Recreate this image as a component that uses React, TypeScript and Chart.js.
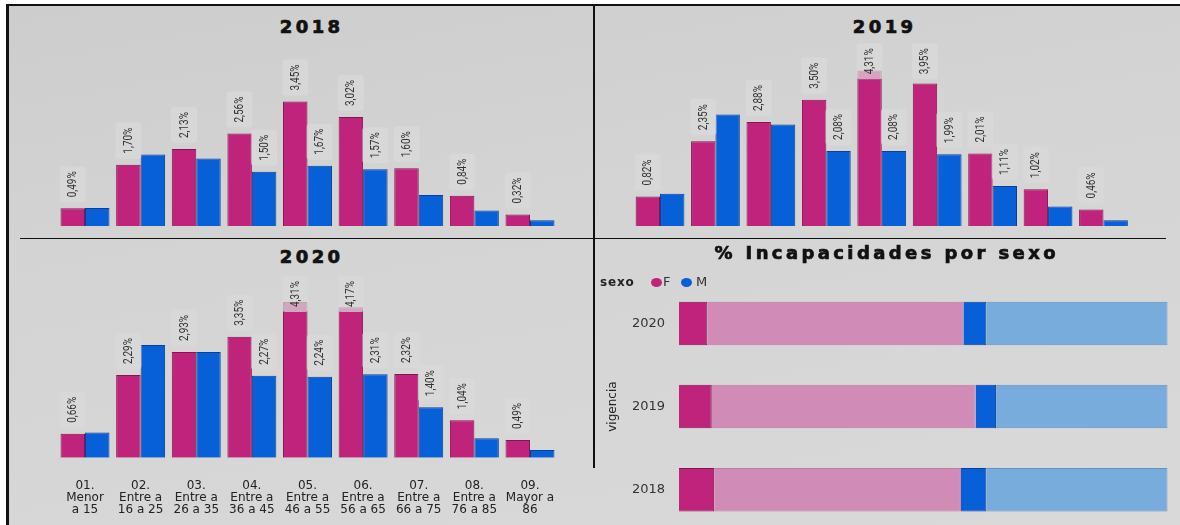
import React, { useEffect, useRef } from "react";
import { Chart, registerables } from "chart.js";

Chart.register(...registerables);

// ---------- data ----------
const ageGroups: string[][] = [
  ["01.", "Menor", "a 15"],
  ["02.", "Entre a", "16 a 25"],
  ["03.", "Entre a", "26 a 35"],
  ["04.", "Entre a", "36 a 45"],
  ["05.", "Entre a", "46 a 55"],
  ["06.", "Entre a", "56 a 65"],
  ["07.", "Entre a", "66 a 75"],
  ["08.", "Entre a", "76 a 85"],
  ["09.", "Mayor a", "86"],
];

const f2018 = [0.49, 1.7, 2.13, 2.56, 3.45, 3.02, 1.6, 0.84, 0.32];
const m2018 = [0.5, 1.98, 1.87, 1.5, 1.67, 1.57, 0.86, 0.43, 0.16];
const f2019 = [0.82, 2.35, 2.88, 3.5, 4.31, 3.95, 2.01, 1.02, 0.46];
const m2019 = [0.89, 3.09, 2.81, 2.08, 2.08, 1.99, 1.11, 0.54, 0.16];
const f2020 = [0.66, 2.29, 2.93, 3.35, 4.31, 4.17, 2.32, 1.04, 0.49];
const m2020 = [0.7, 3.12, 2.93, 2.27, 2.24, 2.31, 1.4, 0.54, 0.21];

const fLabelsShown = [true, true, true, true, true, true, true, true, true];
const mLabels2018 = [false, false, false, true, true, true, false, false, false];
const mLabels2019 = [false, false, false, true, true, true, true, false, false];
const mLabels2020 = [false, false, false, true, true, true, true, false, false];

const sexYears = ["2020", "2019", "2018"];
const fSelected = [5.8, 6.7, 7.2];
const fRest = [52.4, 54.0, 50.5];
const mSelected = [4.7, 4.2, 5.2];
const mRest = [37.1, 35.1, 37.1];

// ---------- styles ----------
const F_COLOR = "#c0237b";
const F_BORDER = "#86124f";
const M_COLOR = "#0760d8";
const M_BORDER = "#0a3f98";
const F_LIGHT = "#d08bb6";
const F_LIGHT_BORDER = "#c27aa7";
const M_LIGHT = "#78acdc";
const M_LIGHT_BORDER = "#5e94c6";

const LABEL_SX = 0.83;

function roundRect(ctx: CanvasRenderingContext2D, x: number, y: number, w: number, h: number, r: number) {
  ctx.beginPath();
  ctx.moveTo(x + r, y);
  ctx.lineTo(x + w - r, y);
  ctx.quadraticCurveTo(x + w, y, x + w, y + r);
  ctx.lineTo(x + w, y + h - r);
  ctx.quadraticCurveTo(x + w, y + h, x + w - r, y + h);
  ctx.lineTo(x + r, y + h);
  ctx.quadraticCurveTo(x, y + h, x, y + h - r);
  ctx.lineTo(x, y + r);
  ctx.quadraticCurveTo(x, y, x + r, y);
  ctx.closePath();
}

const barLabelPlugin = {
  id: "barLabels",
  afterDatasetsDraw(chart: any, _args: any, opts: any) {
    const ctx: CanvasRenderingContext2D = chart.ctx;
    const minTop = opts && typeof opts.minTop === "number" ? opts.minTop : 0;
    chart.data.datasets.forEach((ds: any, di: number) => {
      const flags: boolean[] = ds.labelFlags || [];
      const meta = chart.getDatasetMeta(di);
      meta.data.forEach((bar: any, i: number) => {
        if (!flags[i]) return;
        const v = ds.data[i] as number;
        const text = v.toFixed(2).replace(".", ",") + "%";
        ctx.save();
        ctx.font = "12px Roboto, 'DejaVu Sans', sans-serif";
        const tw = ctx.measureText(text).width * LABEL_SX;
        const boxLen = tw + 10;
        const boxW = 26;
        let boxTop = bar.y - 6 - boxLen;
        if (boxTop < minTop) boxTop = minTop;
        const x = bar.x;
        ctx.fillStyle = "rgba(218,218,218,0.72)";
        roundRect(ctx, x - boxW / 2, boxTop, boxW, boxLen, 3);
        ctx.fill();
        ctx.translate(x, boxTop + boxLen - 5);
        ctx.rotate(-Math.PI / 2);
        ctx.scale(LABEL_SX, 1);
        ctx.textAlign = "left";
        ctx.textBaseline = "middle";
        ctx.fillStyle = "#333333";
        ctx.fillText(text, 0, 0.5);
        ctx.restore();
      });
    });
  },
};

type BarPanelProps = {
  left: number;
  top: number;
  width: number;
  height: number;
  fData: number[];
  mData: number[];
  mFlags: boolean[];
  padding: { left: number; right: number; top: number; bottom: number };
  showX: boolean;
  xAxisHeight?: number;
  minLabelTop: number;
};

const Y_MAX = 5;

function BarPanel(p: BarPanelProps) {
  const ref = useRef<HTMLCanvasElement>(null);
  useEffect(() => {
    if (!ref.current) return;
    const chart = new Chart(ref.current, {
      type: "bar",
      data: {
        labels: ageGroups as any,
        datasets: [
          {
            label: "F",
            data: p.fData,
            backgroundColor: F_COLOR,
            borderColor: F_BORDER,
            borderWidth: 1,
            labelFlags: fLabelsShown,
          } as any,
          {
            label: "M",
            data: p.mData,
            backgroundColor: M_COLOR,
            borderColor: M_BORDER,
            borderWidth: 1,
            labelFlags: p.mFlags,
          } as any,
        ],
      },
      options: {
        animation: false,
        responsive: false,
        maintainAspectRatio: false,
        layout: { padding: p.padding },
        datasets: { bar: { categoryPercentage: 0.88, barPercentage: 1 } },
        scales: {
          x: {
            display: p.showX,
            grid: { display: false, drawTicks: false },
            border: { display: false },
            ticks: {
              color: "#222222",
              padding: 22,
              maxRotation: 0,
              autoSkip: false,
              font: { family: "'DejaVu Sans', sans-serif", size: 12, lineHeight: 1.0 },
            },
            afterFit: (s: any) => {
              if (p.xAxisHeight) s.height = p.xAxisHeight;
            },
          },
          y: { display: false, min: 0, max: Y_MAX },
        },
        plugins: {
          legend: { display: false },
          tooltip: { enabled: false },
          barLabels: { minTop: p.minLabelTop },
        } as any,
      },
      plugins: [barLabelPlugin],
    });
    return () => chart.destroy();
  }, []);
  return (
    <canvas
      ref={ref}
      width={p.width}
      height={p.height}
      style={{ position: "absolute", left: p.left, top: p.top, width: p.width, height: p.height }}
    />
  );
}

function SexPanel() {
  const ref = useRef<HTMLCanvasElement>(null);
  useEffect(() => {
    if (!ref.current) return;
    const chart = new Chart(ref.current, {
      type: "bar",
      data: {
        labels: sexYears,
        datasets: [
          { label: "F", data: fSelected, backgroundColor: F_COLOR, borderColor: F_BORDER, borderWidth: 1 },
          { label: "F", data: fRest, backgroundColor: F_LIGHT, borderColor: F_LIGHT_BORDER, borderWidth: 1 },
          { label: "M", data: mSelected, backgroundColor: M_COLOR, borderColor: M_BORDER, borderWidth: 1 },
          { label: "M", data: mRest, backgroundColor: M_LIGHT, borderColor: M_LIGHT_BORDER, borderWidth: 1 },
        ],
      },
      options: {
        indexAxis: "y",
        animation: false,
        responsive: false,
        maintainAspectRatio: false,
        layout: { padding: { left: 0, right: 6.4, top: 43, bottom: 10 } },
        datasets: { bar: { categoryPercentage: 0.524, barPercentage: 1 } },
        scales: {
          x: { stacked: true, min: 0, max: 100, display: false },
          y: {
            stacked: true,
            grid: { display: false, drawTicks: false },
            border: { display: false },
            ticks: {
              color: "#333333",
              padding: 14,
              font: { family: "'DejaVu Sans', sans-serif", size: 13 },
            },
            title: {
              display: true,
              text: "vigencia",
              color: "#222222",
              padding: { top: 12, bottom: 0 },
              font: { family: "'DejaVu Sans', sans-serif", size: 12 },
            },
            afterFit: (s: any) => {
              s.width = 85;
            },
          },
        },
        plugins: { legend: { display: false }, tooltip: { enabled: false } },
      },
    });
    return () => chart.destroy();
  }, []);
  return (
    <canvas
      ref={ref}
      width={580}
      height={314}
      style={{ position: "absolute", left: 594, top: 239, width: 580, height: 314 }}
    />
  );
}

function Title({ text, cx, cy }: { text: string; cx: number; cy: number }) {
  const ls = 3.4;
  return (
    <div
      style={{
        position: "absolute",
        left: cx - 250,
        width: 500,
        top: cy - 11,
        height: 22,
        lineHeight: "22px",
        textAlign: "center",
        fontFamily: "'DejaVu Sans', sans-serif",
        fontWeight: 700,
        fontSize: 18,
        letterSpacing: ls,
        paddingLeft: ls,
        boxSizing: "border-box",
        color: "#111111",
        whiteSpace: "nowrap",
        WebkitTextStroke: "0.7px #111111",
      }}
    >
      {text}
    </div>
  );
}

function Line({ l, t, w, h }: { l: number; t: number; w: number; h: number }) {
  return <div style={{ position: "absolute", left: l, top: t, width: w, height: h, background: "#111111" }} />;
}

function Dot({ cx, cy, color }: { cx: number; cy: number; color: string }) {
  return (
    <div
      style={{
        position: "absolute",
        left: cx - 5.5,
        top: cy - 4.5,
        width: 11,
        height: 9,
        borderRadius: "50%",
        background: color,
      }}
    />
  );
}

const legendText: React.CSSProperties = {
  position: "absolute",
  top: 274,
  height: 16,
  lineHeight: "16px",
  fontFamily: "'DejaVu Sans', sans-serif",
  fontSize: 13,
  color: "#333333",
  whiteSpace: "nowrap",
};

export default function App() {
  return (
    <div
      style={{
        position: "absolute",
        left: 0,
        top: 0,
        width: 1180,
        height: 525,
        overflow: "hidden",
        background: "#ffffff",
      }}
    >
      <div
        style={{
          position: "absolute",
          left: 6,
          top: 4,
          width: 1174,
          height: 521,
          background: "linear-gradient(170deg, #cdcdcd 0%, #d4d4d4 40%, #d9d9d9 100%)",
        }}
      />
      <BarPanel
        left={8}
        top={40}
        width={584}
        height={196}
        fData={f2018}
        mData={m2018}
        mFlags={mLabels2018}
        padding={{ left: 49.2, right: 34.2, top: 5.5, bottom: 10 }}
        showX={false}
        minLabelTop={3.3}
      />
      <BarPanel
        left={596}
        top={40}
        width={578}
        height={196}
        fData={f2019}
        mData={m2019}
        mFlags={mLabels2019}
        padding={{ left: 36.3, right: 42.8, top: 5.5, bottom: 10 }}
        showX={false}
        minLabelTop={3.3}
      />
      <BarPanel
        left={8}
        top={270}
        width={584}
        height={255}
        fData={f2020}
        mData={m2020}
        mFlags={mLabels2020}
        padding={{ left: 49.2, right: 34.2, top: 7.2, bottom: 0 }}
        showX={true}
        xAxisHeight={67.3}
        minLabelTop={6}
      />
      <SexPanel />

      <Title text="2018" cx={310} cy={27} />
      <Title text="2019" cx={883} cy={27} />
      <Title text="2020" cx={310} cy={257} />
      <Title text="% Incapacidades por sexo" cx={885} cy={253} />

      <div style={{ ...legendText, left: 600, fontWeight: 700, fontSize: 12, color: "#222222", letterSpacing: 0.8 }}>sexo</div>
      <Dot cx={656} cy={282} color={F_COLOR} />
      <div style={{ ...legendText, left: 663 }}>F</div>
      <Dot cx={686} cy={282} color={M_COLOR} />
      <div style={{ ...legendText, left: 696 }}>M</div>

      <Line l={6} t={4} w={1174} h={2} />
      <Line l={6} t={4} w={2.5} h={521} />
      <Line l={592.5} t={5} w={2} h={463} />
      <Line l={20} t={237.5} w={1146} h={1.5} />
    </div>
  );
}
